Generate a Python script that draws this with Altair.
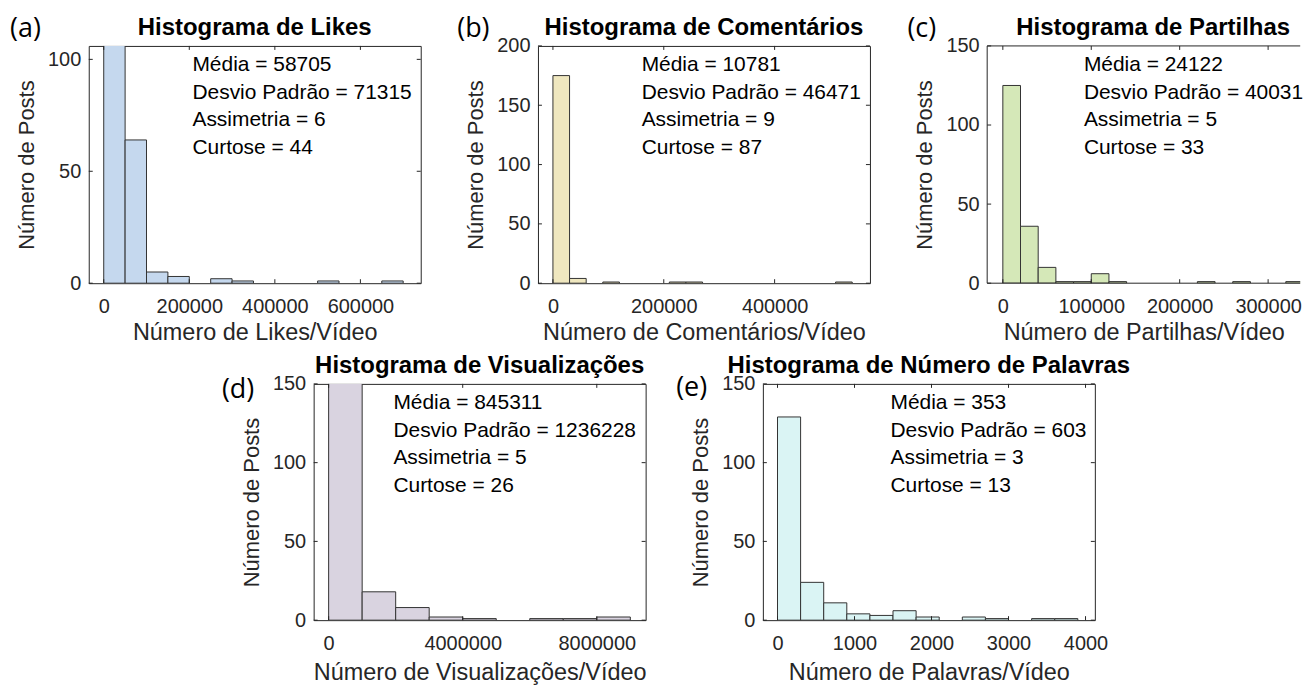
import altair as alt
import pandas as pd

FONT = "Liberation Sans"
LABEL_FONT = "Open Sans"
INK = "#262626"

# ---------------- data ----------------
likes_counts = [107, 64, 5, 3, 0, 2, 1, 0, 0, 0, 1, 0, 0, 1]
likes_bin = 50000
coment_counts = [175, 4, 0, 1, 0, 0, 0, 1, 1, 0, 0, 0, 0, 0, 0, 0, 0, 1]
coment_bin = 30000
partilhas_counts = [125, 36, 10, 1, 1, 6, 1, 0, 0, 0, 0, 1, 0, 1, 0, 0, 1]
partilhas_bin = 20000
visual_counts = [152, 18, 8, 2, 1, 0, 1, 1, 2]
visual_bin = 1000000
palavras_counts = [129, 24, 11, 4, 3, 6, 2, 0, 2, 1, 0, 1, 1]
palavras_bin = 300

titles = ["Histograma de Likes", "Histograma de Comentários", "Histograma de Partilhas",
          "Histograma de Visualizações", "Histograma de Número de Palavras"]
x_titles = ["Número de Likes/Vídeo", "Número de Comentários/Vídeo", "Número de Partilhas/Vídeo",
            "Número de Visualizações/Vídeo", "Número de Palavras/Vídeo"]
y_title = "Número de Posts"
panel_labels = ["(a)", "(b)", "(c)", "(d)", "(e)"]

medias = [58705, 10781, 24122, 845311, 353]
desvios = [71315, 46471, 40031, 1236228, 603]
assimetrias = [6, 9, 5, 5, 3]
curtoses = [44, 87, 33, 26, 13]

x_ticks = [
    [0, 200000, 400000, 600000],
    [0, 200000, 400000],
    [0, 100000, 200000, 300000],
    [0, 4000000, 8000000],
    [0, 1000, 2000, 3000, 4000],
]
y_ticks = [
    [0, 50, 100],
    [0, 50, 100, 150, 200],
    [0, 50, 100, 150],
    [0, 50, 100, 150],
    [0, 50, 100, 150],
]
x_domains = [
    [-35000, 741000],
    [-27000, 572000],
    [-17700, 336300],
    [-447000, 9457000],
    [-190, 4121],
]
y_domains = [[0, 106], [0, 200], [0, 150], [0, 150], [0, 150]]

colors = ["#C5D8EE", "#EFE7BF", "#D5E8B8", "#D9D3E0", "#DAF4F4"]


def panel(i, counts, binw, W, H, text_dx, label_dx, label_dy, title_x,
          x_title_pad, open_right=False):
    df = pd.DataFrame({
        "start": [k * binw for k in range(len(counts))],
        "end": [(k + 1) * binw for k in range(len(counts))],
        "count": counts,
    })
    xs = alt.Scale(domain=x_domains[i], nice=False, zero=False)
    ys = alt.Scale(domain=y_domains[i], nice=False, zero=False)

    bars = alt.Chart(df).transform_filter("datum.count > 0").mark_bar(
        fill=colors[i], stroke="#333333", strokeWidth=1, clip=True
    ).encode(
        x=alt.X("start:Q", scale=xs,
                axis=alt.Axis(values=x_ticks[i], format="d", title=x_titles[i],
                              titlePadding=x_title_pad)),
        x2="end:Q",
        y=alt.Y("count:Q", scale=ys,
                axis=alt.Axis(values=y_ticks[i], format="d", title=y_title)),
        y2=alt.datum(0),
    )

    # inward tick marks on all sides (same field names so the axes merge)
    xt = pd.DataFrame({"start": x_ticks[i]})
    yt = pd.DataFrame({"count": y_ticks[i]})
    tl = 4
    tb = alt.Chart(xt).mark_rule(color=INK, strokeWidth=1).encode(
        x=alt.X("start:Q", scale=xs), y=alt.value(H), y2=alt.value(H - tl))
    tt = alt.Chart(xt).mark_rule(color=INK, strokeWidth=1).encode(
        x=alt.X("start:Q", scale=xs), y=alt.value(0), y2=alt.value(tl))
    tlft = alt.Chart(yt).mark_rule(color=INK, strokeWidth=1).encode(
        y=alt.Y("count:Q", scale=ys), x=alt.value(0), x2=alt.value(tl))
    layers = [bars, tb, tt, tlft]
    if not open_right:
        trt = alt.Chart(yt).mark_rule(color=INK, strokeWidth=1).encode(
            y=alt.Y("count:Q", scale=ys), x=alt.value(W), x2=alt.value(W - tl))
        layers.append(trt)

    one = pd.DataFrame({"k": [0]})
    if open_right:
        # frame without a right edge: the panel runs off the page edge
        fr_top = alt.Chart(one).mark_rule(color=INK, strokeWidth=1).encode(
            x=alt.value(0), x2=alt.value(W), y=alt.value(0))
        fr_bot = alt.Chart(one).mark_rule(color=INK, strokeWidth=1).encode(
            x=alt.value(0), x2=alt.value(W), y=alt.value(H))
        fr_left = alt.Chart(one).mark_rule(color=INK, strokeWidth=1).encode(
            x=alt.value(0), y=alt.value(0), y2=alt.value(H))
        layers += [fr_top, fr_bot, fr_left]

    lines = [f"Média = {medias[i]}", f"Desvio Padrão = {desvios[i]}",
             f"Assimetria = {assimetrias[i]}", f"Curtose = {curtoses[i]}"]
    txt = alt.Chart(one).mark_text(
        text=lines, align="left", baseline="alphabetic", font=FONT, fontSize=21,
        lineHeight=27.5, color="black"
    ).encode(x=alt.value(text_dx), y=alt.value(25.6))
    lab = alt.Chart(one).mark_text(
        text=panel_labels[i], align="left", baseline="middle", font=LABEL_FONT,
        fontSize=27, color="black"
    ).encode(x=alt.value(label_dx), y=alt.value(label_dy))
    ttl = alt.Chart(one).mark_text(
        text=titles[i], align="center", baseline="alphabetic", font=FONT,
        fontSize=24, fontWeight="bold", color="black"
    ).encode(x=alt.value(title_x), y=alt.value(-10.5))
    layers += [txt, lab, ttl]

    ch = alt.layer(*layers).properties(width=W, height=H)
    if open_right:
        ch = ch.properties(view=alt.ViewBackground(stroke="transparent"))
    return ch


pa = panel(0, likes_counts, likes_bin, 333, 238, 104, -79, -17, 166.5, 4)
pb = panel(1, coment_counts, coment_bin, 333, 238, 104, -81, -17, 166.5, 4)
pc = panel(2, partilhas_counts, partilhas_bin, 314, 238, 97, -80, -17, 166.5, 4,
           open_right=True)
pd_ = panel(3, visual_counts, visual_bin, 333, 237, 80, -92, 6.5, 166.5, 8)
pe = panel(4, palavras_counts, palavras_bin, 333, 237, 128, -87, 4.5, 166.5, 8)

spacer = alt.Chart(pd.DataFrame({"k": [0]})).mark_point(opacity=0).encode(
    x=alt.value(0), y=alt.value(0)
).properties(width=108, height=237, view=alt.ViewBackground(stroke="transparent"))

top = alt.hconcat(pa, pb, pc, spacing=117.6, bounds="flush")
bottom = alt.hconcat(spacer, pd_, pe, spacing=117.6, bounds="flush")

chart = alt.vconcat(top, bottom, spacing=339, bounds="flush").properties(
    padding={"left": 1, "top": 5, "right": 0, "bottom": 0},
    background="white",
).configure_view(
    stroke=INK, strokeWidth=1
).configure_axis(
    labelFont=FONT, labelFontSize=20, labelColor=INK,
    titleFont=FONT, titleFontWeight="normal", titleColor=INK,
    ticks=False, tickSize=0, domain=False, grid=False,
    labelFlush=False, labelOverlap=False,
).configure_axisX(
    labelPadding=13, titleFontSize=23.5,
).configure_axisY(
    labelPadding=8, titlePadding=9, titleFontSize=22,
)

chart.save("out.html", embed_options={"renderer": "svg", "actions": False})
